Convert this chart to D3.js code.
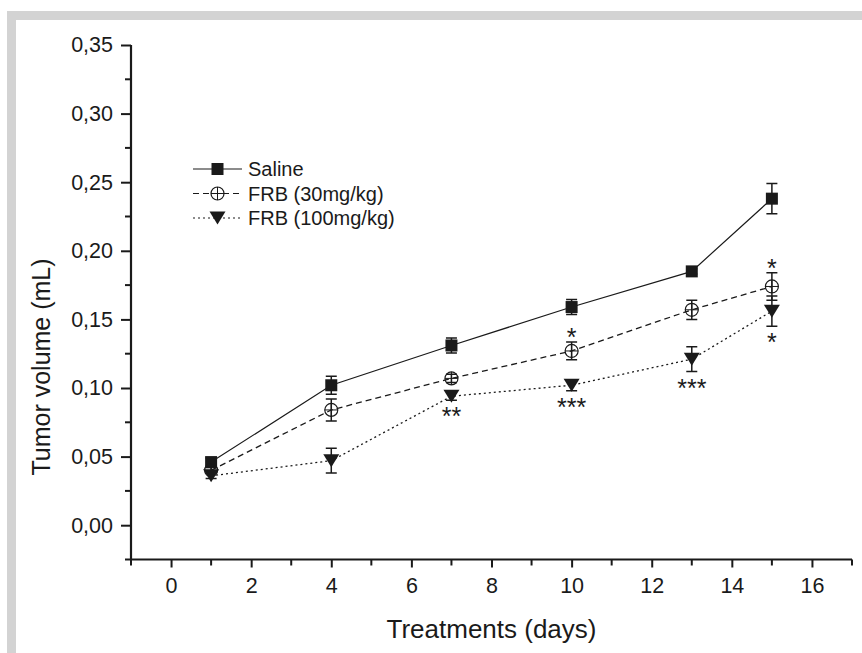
<!DOCTYPE html>
<html>
<head>
<meta charset="utf-8">
<script src="https://cdn.jsdelivr.net/npm/d3@7"></script>
<style>
  body { margin: 0; background: #fff; }
  text { font-family: "Liberation Sans", Arial, sans-serif; fill: #1a1a1a; }
</style>
</head>
<body>
<div id="chart"></div>
<script>
// data
const days = [1, 4, 7, 10, 13, 15];
const seriesNames = ["Saline", "FRB (30mg/kg)", "FRB (100mg/kg)"];
const salineMean = [0.046, 0.102, 0.131, 0.159, 0.185, 0.238];
const salineErr = [0.003, 0.0065, 0.0055, 0.0055, 0.002, 0.011];
const frb30Mean = [0.040, 0.084, 0.107, 0.127, 0.157, 0.174];
const frb30Err = [0.002, 0.008, 0.003, 0.0065, 0.007, 0.010];
const frb100Mean = [0.036, 0.047, 0.094, 0.102, 0.121, 0.156];
const frb100Err = [0.002, 0.009, 0.003, 0.004, 0.009, 0.011];
// significance marks: series index, day index, label, side
const stars = [
    [1, 3, "*", "up"], [1, 5, "*", "up"],
    [2, 2, "**", "down"], [2, 3, "***", "down"], [2, 4, "***", "down"], [2, 5, "*", "down"]
];
const yTicks = [0, 0.05, 0.10, 0.15, 0.20, 0.25, 0.30, 0.35];
const xTicks = [0, 2, 4, 6, 8, 10, 12, 14, 16];

const W = 862, H = 653;
const svg = d3.select("#chart").append("svg").attr("width", W).attr("height", H);

// grey frame
svg.append("rect").attr("x", 7).attr("y", 11).attr("width", W - 7).attr("height", H - 11).attr("fill", "#d3d3d3");
svg.append("rect").attr("x", 16).attr("y", 20).attr("width", W - 16).attr("height", H - 20).attr("fill", "#fff");

const x = d3.scaleLinear().domain([-1, 17]).range([131, 852]);
const y = d3.scaleLinear().domain([-0.025, 0.35]).range([559.5, 45]);

const fmt = d => d3.format(".2f")(d).replace(".", ",");

// y axis
const gy = svg.append("g").attr("transform", "translate(" + x(-1) + ",0)");
gy.call(d3.axisLeft(y).tickValues(yTicks).tickSize(10).tickPadding(8).tickFormat(fmt));
gy.selectAll("g.minor").data(d3.range(-0.025, 0.35, 0.05)).enter().append("line")
    .attr("x1", -6).attr("x2", 0).attr("y1", d => y(d)).attr("y2", d => y(d))
    .attr("stroke", "#1a1a1a").attr("stroke-width", 2);

// x axis
const gx = svg.append("g").attr("transform", "translate(0," + y(-0.025) + ")");
gx.call(d3.axisBottom(x).tickValues(xTicks).tickSize(8).tickPadding(10).tickFormat(d3.format("d")));
gx.selectAll("g.minor").data(d3.range(-1, 18, 2)).enter().append("line")
    .attr("x1", d => x(d)).attr("x2", d => x(d)).attr("y1", 0).attr("y2", 6)
    .attr("stroke", "#1a1a1a").attr("stroke-width", 2);

[gx, gy].forEach(g => {
    g.select(".domain").attr("stroke", "#1a1a1a").attr("stroke-width", 2.2)
        .attr("d", g === gx ? "M" + x(-1) + ",0H" + x(17) : "M0," + y(0.35) + "V" + y(-0.025));
    g.selectAll(".tick line").attr("stroke", "#1a1a1a").attr("stroke-width", 2);
    g.selectAll(".tick text").attr("font-size", 21.5).attr("font-family", "Liberation Sans, Arial, sans-serif").attr("fill", "#1a1a1a");
});

// axis titles
svg.append("text").attr("x", x(8)).attr("y", 638).attr("text-anchor", "middle")
    .attr("font-size", 26).text("Treatments (days)");
svg.append("text").attr("transform", "translate(50,367) rotate(-90)")
    .attr("text-anchor", "middle").attr("font-size", 25).text("Tumor volume (mL)");

const means = [salineMean, frb30Mean, frb100Mean];
const errs = [salineErr, frb30Err, frb100Err];
const dashes = [null, "6,4", "2,3"];
const stroke = "#1a1a1a";

function drawMarker(g, k, cx, cy) {
    if (k === 0) {
        g.append("rect").attr("x", cx - 6).attr("y", cy - 6).attr("width", 12).attr("height", 12).attr("fill", stroke);
    } else if (k === 1) {
        g.append("circle").attr("cx", cx).attr("cy", cy).attr("r", 6.5).attr("fill", "none").attr("stroke", stroke).attr("stroke-width", 1.2);
        g.append("path").attr("d", "M" + (cx - 6.5) + "," + cy + "H" + (cx + 6.5) + "M" + cx + "," + (cy - 6.5) + "V" + (cy + 6.5))
            .attr("stroke", stroke).attr("stroke-width", 1);
    } else {
        g.append("path").attr("d", "M" + (cx - 8) + "," + (cy - 6.5) + "H" + (cx + 8) + "L" + cx + "," + (cy + 6.5) + "Z").attr("fill", stroke);
    }
}

// lines
means.forEach((m, k) => {
    const line = d3.line().x((d, i) => x(days[i])).y(d => y(d));
    svg.append("path").datum(m).attr("d", line).attr("fill", "none")
        .attr("stroke", stroke).attr("stroke-width", k === 0 ? 1.2 : 1.3)
        .attr("stroke-dasharray", dashes[k]);
});

// error bars and markers
means.forEach((m, k) => {
    const g = svg.append("g");
    m.forEach((v, i) => {
        const cx = x(days[i]), top = y(v + errs[k][i]), bot = y(v - errs[k][i]);
        g.append("path").attr("d", "M" + cx + "," + top + "V" + bot + "M" + (cx - 5.5) + "," + top + "H" + (cx + 5.5) + "M" + (cx - 5.5) + "," + bot + "H" + (cx + 5.5))
            .attr("stroke", stroke).attr("stroke-width", 1.5).attr("fill", "none");
        drawMarker(g, k, cx, y(v));
    });
});

// significance stars
stars.forEach(s => {
    const k = s[0], i = s[1];
    const v = means[k][i], e = errs[k][i];
    const c = s[3] === "up" ? y(v + e) - 10 : y(v - e) + 11;
    svg.append("text").attr("x", x(days[i])).attr("y", c + 14).attr("text-anchor", "middle")
        .attr("font-size", 25).text(s[2]);
});

// legend
const legend = svg.append("g").attr("transform", "translate(193,169)");
seriesNames.forEach((name, k) => {
    const gy0 = k * 24.5;
    legend.append("path").attr("d", "M0," + gy0 + "H49").attr("stroke", stroke)
        .attr("stroke-width", 1.2).attr("stroke-dasharray", dashes[k]);
    drawMarker(legend, k, 24.5, gy0);
    legend.append("text").attr("x", 55).attr("y", gy0 + 7).attr("font-size", 20).text(name);
});
</script>
</body>
</html>
